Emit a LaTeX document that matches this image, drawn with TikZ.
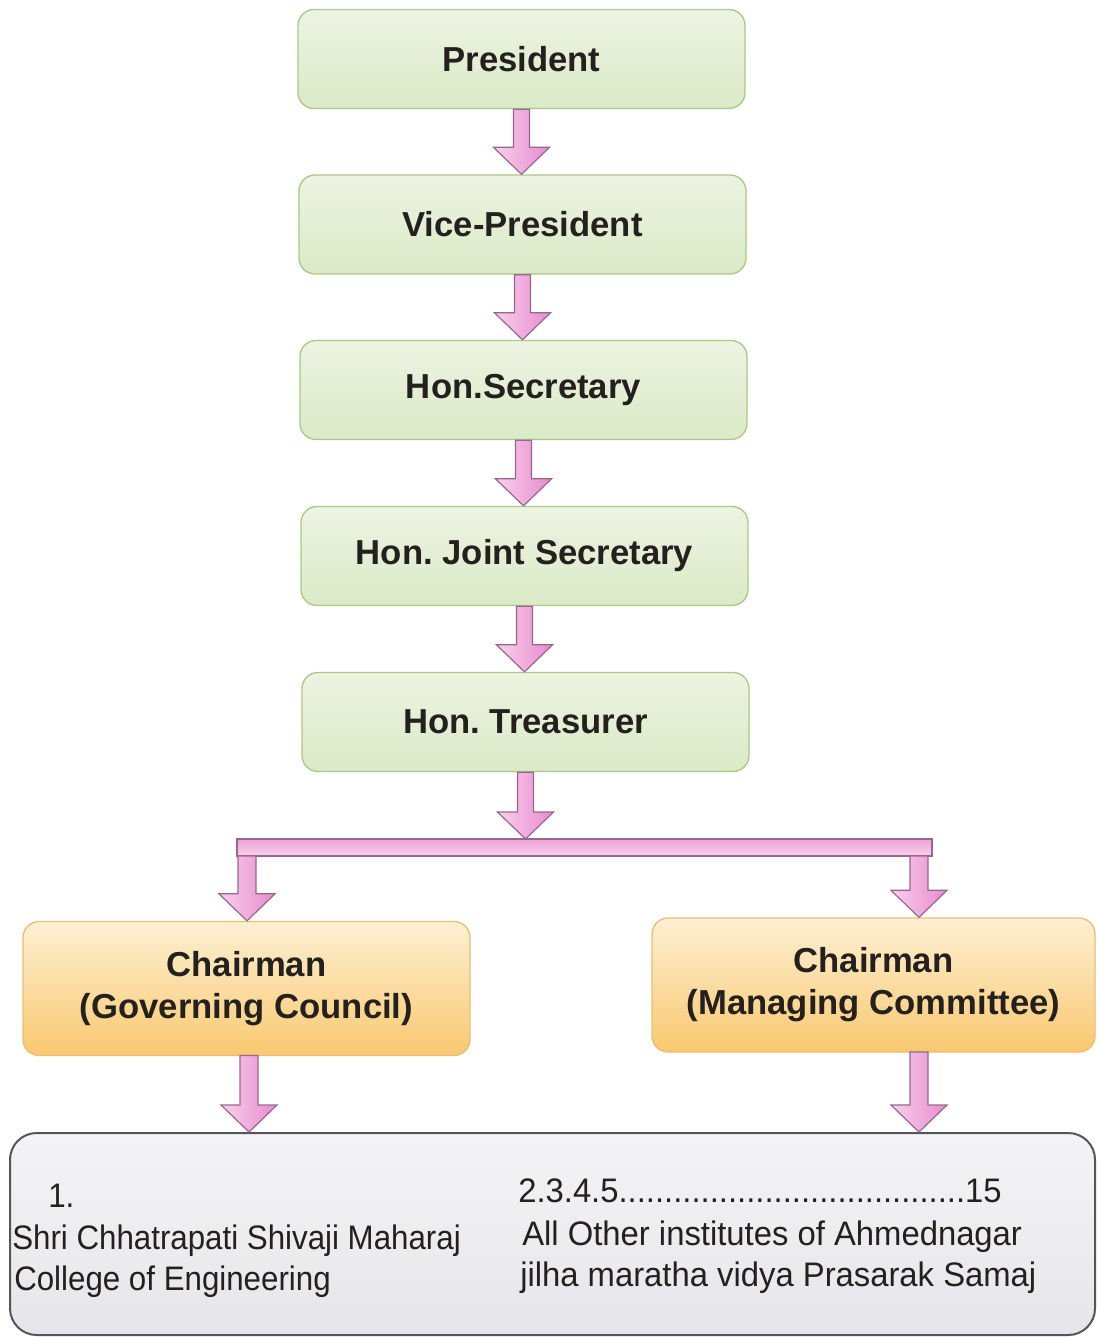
\documentclass[tikz,border=0pt]{standalone}
\usepackage{fontspec}
\setmainfont{Liberation Sans}
\newfontfamily\narrowfont[FakeStretch=0.92]{Liberation Sans}
\newfontfamily\narrowfontb[FakeStretch=0.965]{Liberation Sans}
\usetikzlibrary{calc}
\frenchspacing
\definecolor{txt}{RGB}{35,32,30}
\definecolor{gtop}{RGB}{237,243,226}
\definecolor{gbot}{RGB}{218,234,198}
\definecolor{gline}{RGB}{172,200,135}
\definecolor{otop}{RGB}{253,240,210}
\definecolor{obot}{RGB}{249,200,112}
\definecolor{oline}{RGB}{232,190,120}
\definecolor{btop}{RGB}{244,244,246}
\definecolor{bbot}{RGB}{230,230,234}
\definecolor{bline}{RGB}{85,85,92}
\definecolor{plight}{RGB}{248,208,236}
\definecolor{pdark}{RGB}{232,138,206}
\definecolor{pline}{RGB}{150,105,140}
\tikzset{
  greenbox/.style={rectangle, rounded corners=12pt, draw=gline, line width=1pt,
    top color=gtop, bottom color=gbot, minimum width={447*0.75pt}, minimum height={99*0.75pt},
    inner sep=0pt, font=\fontsize{26}{31}\selectfont\bfseries, text=txt},
  orangebox/.style={rectangle, rounded corners=12pt, draw=oline, line width=1pt,
    top color=otop, bottom color=obot, minimum height={134*0.75pt},
    inner sep=0pt, align=center, font=\fontsize{26}{31.5}\selectfont\bfseries, text=txt},
  listbox/.style={rectangle, rounded corners=20pt, draw=bline, line width=1.5pt,
    top color=btop, bottom color=bbot, minimum width={1085*0.75pt}, minimum height={202*0.75pt}, inner sep=0pt},
  listtext/.style={font=\narrowfont\fontsize{25.5}{30}\selectfont, text=txt, inner sep=0pt, anchor=base west},
  listtextb/.style={font=\narrowfontb\fontsize{25.5}{30}\selectfont, text=txt, inner sep=0pt, anchor=base west},
  pinkarrow/.style={draw=pline, line width=0.9pt, left color=plight, right color=pdark, line join=miter},
  pinkbar/.style={draw=pline, line width=0.9pt, top color=pdark!80, bottom color=plight, line join=miter}
}
% #1 shaft half-width, #2 start point, #3 point whose y is the tip level
\newcommand{\blockarrow}[3][8]{%
  \coordinate (as) at (#2);
  \coordinate (at) at (#2 |- #3);
  \path[pinkarrow] ($(as)+(-#1,0)$) -- ($(at)+(-#1,-27)$) -- ($(at)+(-28,-27)$) -- (at)
    -- ($(at)+(28,-27)$) -- ($(at)+(#1,-27)$) -- ($(as)+(#1,0)$) -- cycle;
}
\begin{document}
\begin{tikzpicture}[x=0.75pt, y=-0.75pt]
\useasboundingbox (0,0) rectangle (1096,1337);

\node[greenbox] (pres) at (521.5,59) {President};
\node[greenbox] (vp)   at (522.5,224.5) {Vice-President};
\node[greenbox] (sec)  at (523.5,390) {Hon.Secretary};
\node[greenbox] (jsec) at (524.5,556) {Hon. Joint Secretary};
\node[greenbox] (tres) at (525.5,722) {Hon. Treasurer};

\node[orangebox, minimum width={447*0.75pt}] (gc) at (246.5,988.5) {Chairman\\(Governing Council)};
\node[orangebox, minimum width={443*0.75pt}] (mc) at (873.5,985) {Chairman\\(Managing Committee)};

\node[listbox] (list) at (552.5,1234) {};
\node[listtext] (l1) at (48,1207) {1.};
\node[listtext] (l2) at (12,1249) {Shri Chhatrapati Shivaji Maharaj};
\node[listtext] (l3) at (14,1290) {College of Engineering};
\node[listtextb] (r1) at (518,1202) {2.3.4.5......................................15};
\node[listtextb] (r2) at (522,1245) {All Other institutes of Ahmednagar};
\node[listtextb] (r3) at (520,1286) {jilha maratha vidya Prasarak Samaj};

% bar
\coordinate (barL) at (237,839);
\coordinate (barR) at (932,856);
\coordinate (barM) at (525,839);
\coordinate (dropL) at (247,856);
\coordinate (dropR) at (919,856);
\path[pinkbar] (barL) rectangle (barR);

% connectors
\blockarrow{pres.south}{vp.north}
\blockarrow{vp.south}{sec.north}
\blockarrow{sec.south}{jsec.north}
\blockarrow{jsec.south}{tres.north}
\blockarrow{tres.south}{barM}
\blockarrow[9]{dropL}{gc.north}
\blockarrow[9]{dropR}{mc.north}
\coordinate (gcs) at (249,1055.5);
\coordinate (mcs) at (919,1052);
\blockarrow[9]{gcs}{list.north}
\blockarrow[9]{mcs}{list.north}
\end{tikzpicture}
\end{document}
